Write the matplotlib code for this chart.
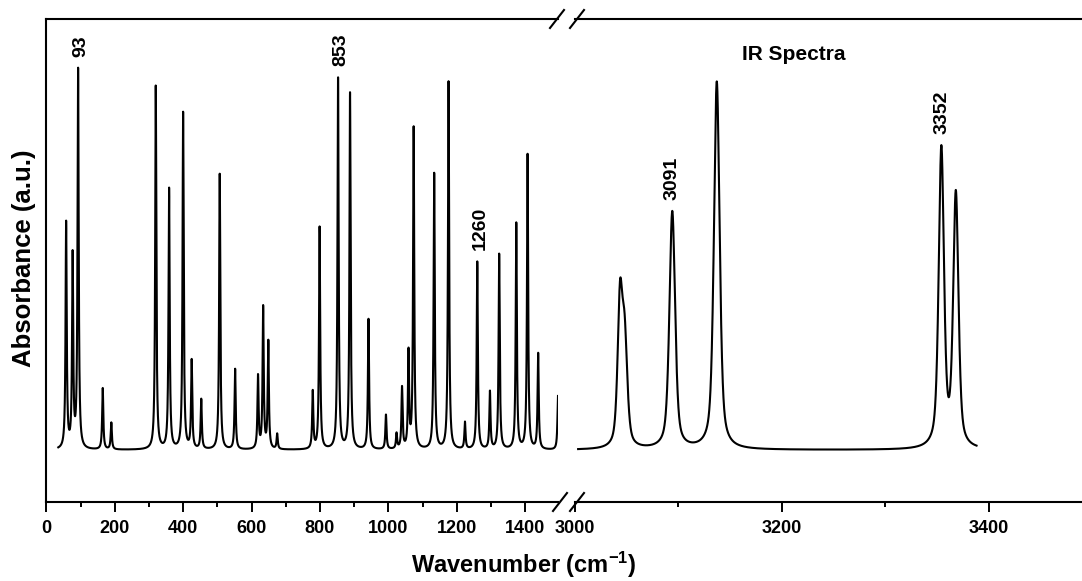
import numpy as np
import matplotlib
matplotlib.use('Agg')
import matplotlib.pyplot as plt
from matplotlib.lines import Line2D

plt.rcParams['font.family'] = ['Liberation Sans', 'DejaVu Sans']
plt.rcParams['font.weight'] = 'bold'
plt.rcParams['mathtext.fontset'] = 'custom'
plt.rcParams['mathtext.rm'] = 'Liberation Sans:bold'
plt.rcParams['mathtext.it'] = 'Liberation Sans:bold'
plt.rcParams['mathtext.bf'] = 'Liberation Sans:bold'

# peaks (wavenumber, relative height, FWHM)
low_pos = [58, 77, 93, 165, 190, 320, 359, 400, 425, 453, 507, 552, 619, 634, 649,
           675, 779, 799, 853, 888, 942, 993, 1024, 1040, 1059, 1074, 1134, 1176,
           1224, 1260, 1297, 1324, 1374, 1407, 1438, 1496]
low_h = [0.59, 0.50, 0.99, 0.16, 0.07, 0.95, 0.68, 0.88, 0.23, 0.13, 0.72, 0.21, 0.19,
         0.37, 0.28, 0.04, 0.15, 0.58, 0.97, 0.93, 0.34, 0.09, 0.04, 0.16, 0.25, 0.84,
         0.72, 0.96, 0.07, 0.49, 0.15, 0.51, 0.59, 0.77, 0.25, 0.14]
high_pos = [3043.5, 3048, 3094, 3137, 3354, 3368]
high_h = [0.37, 0.27, 0.62, 0.96, 0.78, 0.66]
high_fwhm = [5.5, 6, 6.5, 6.5, 6, 6]

low_range = (35, 1496)
high_range = (3003, 3388)

labels = [93, 853, 1260, 3091, 3352]


def lorentz(x, pos, h, gam):
    y = np.zeros_like(x)
    for p, a in zip(pos, h):
        y += a * gam**2 / ((x - p)**2 + gam**2)
    return y


def pvoigt(x, pos, h, fw, eta=0.55):
    y = np.zeros_like(x)
    for p, a, w in zip(pos, h, fw):
        g = w / 2
        s = w / 2.3548
        y += a * (eta * g**2 / ((x - p)**2 + g**2) + (1 - eta) * np.exp(-(x - p)**2 / (2 * s**2)))
    return y


xl = np.linspace(*low_range, 8000)
yl = lorentz(xl, low_pos, low_h, 2.0)
xh = np.linspace(*high_range, 4000)
yh = pvoigt(xh, high_pos, high_h, high_fwhm)

W, H = 1082, 581
fig = plt.figure(figsize=(W / 100, H / 100), dpi=100)
bot = 1 - 502 / H
top = 1 - 18.5 / H
ax1 = fig.add_axes([46.3 / W, bot, (558 - 46.3) / W, top - bot])
ax2 = fig.add_axes([575 / W, bot, (1082 - 575) / W + 0.002, top - bot])

ylim = (-52 / 383, (450 - 18.5) / 383)
for ax in (ax1, ax2):
    ax.set_ylim(*ylim)
    ax.set_yticks([])
    for s in ax.spines.values():
        s.set_linewidth(1.5)
    ax.tick_params(axis='x', which='major', direction='out', length=7, width=1.4,
                   labelsize=13, pad=6)
    ax.tick_params(axis='x', which='minor', direction='out', length=3.5, width=1.4)

ax1.plot(xl, yl, color='black', lw=1.5)
ax2.plot(xh, yh, color='black', lw=1.5)

ax1.set_xlim(0, 1496)
ax1.set_xticks(np.arange(0, 1401, 200))
ax1.set_xticks(np.arange(100, 1500, 200), minor=True)
ax1.spines['right'].set_visible(False)

ax2.set_xlim(3000, 3492)
ax2.set_xticks([3000, 3200, 3400])
ax2.set_xticks([3100, 3300], minor=True)
ax2.spines['left'].set_visible(False)
ax2.spines['right'].set_visible(False)

for ax in (ax1, ax2):
    for t in ax.get_xticklabels():
        t.set_fontweight('bold')

# peak labels
for lab in labels:
    if lab < 2000:
        ax, xs, ys = ax1, xl, yl
    else:
        ax, xs, ys = ax2, xh, yh
    m = np.abs(xs - lab) < 6
    ax.annotate(str(lab), (lab, ys[m].max()), xytext=(2, 8), textcoords='offset points',
                rotation=90, ha='center', va='bottom', fontsize=14, fontweight='bold')

ax2.text(3211, (450 - 55) / 383, 'IR Spectra', ha='center', va='center',
         fontsize=15, fontweight='bold')

# axis break marks
for cx, cy in [(557, 19), (577, 19), (560, 502), (577, 502)]:
    fig.add_artist(Line2D([(cx - 7) / W, (cx + 7) / W], [1 - (cy + 9) / H, 1 - (cy - 9) / H],
                          color='black', lw=1.5))

fig.text(24 / W, 1 - 258 / H, 'Absorbance (a.u.)', rotation=90, ha='center', va='center',
         fontsize=18.5, fontweight='bold')
fig.text(524 / W, 1 - 573 / H, r'Wavenumber (cm$^{-1}$)', ha='center', va='baseline',
         fontsize=17, fontweight='bold')

fig.savefig('out.png', dpi=100)
